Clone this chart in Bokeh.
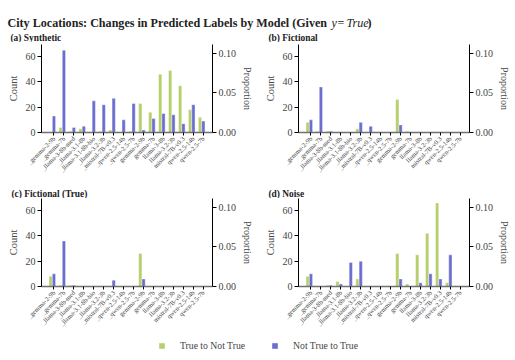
import math
from bokeh.plotting import figure
from bokeh.models import (Range1d, LinearAxis, FixedTicker, PrintfTickFormatter,
                          Label, Legend, LegendItem, ColumnDataSource)
from bokeh.transform import dodge
from bokeh.layouts import column, row
from bokeh.embed import file_html
from bokeh.resources import INLINE

# ---------------- data ----------------
categories = ["_gemma-2-9b", "_gemma-7b", "_llama-3-8b-med", "_llama-3.1-8b",
              "_llama-3.1-8b-bio", "_llama-3.2-3b", "_mistral-7B-v0.3", "_qwen-2.5-14b",
              "_qwen-2.5-7b", "gemma-2-9b", "gemma-7b", "llama-3-8b", "llama-3.2-3b",
              "mistral-7B-v0.3", "qwen-2.5-14b", "qwen-2.5-7b"]

panel_titles = ["(a) Synthetic", "(b) Fictional", "(c) Fictional (True)", "(d) Noise"]

synthetic_true_to_not = [0, 4, 1, 3, 0, 1, 2, 0, 1, 23, 16, 46, 49, 37, 18, 12]
synthetic_not_to_true = [13, 65, 4, 5, 25, 22, 27, 10, 23, 2, 11, 15, 14, 7, 22, 9]

fictional_true_to_not = [8, 1, 1, 0, 0, 3, 0, 0, 0, 26, 1, 0, 0, 0, 0, 0]
fictional_not_to_true = [10, 36, 1, 0, 0, 8, 5, 0, 0, 6, 0, 0, 0, 0, 0, 0]

fictrue_true_to_not = [8, 1, 1, 0, 0, 0, 0, 0, 0, 26, 0, 0, 0, 0, 0, 0]
fictrue_not_to_true = [10, 36, 1, 0, 0, 0, 5, 0, 0, 6, 0, 0, 0, 0, 0, 0]

noise_true_to_not = [8, 0, 1, 4, 0, 6, 0, 0, 0, 26, 2, 25, 42, 66, 3, 0]
noise_not_to_true = [10, 0, 1, 2, 19, 20, 0, 0, 0, 6, 0, 3, 10, 6, 25, 0]

count_ticks = [0, 20, 40, 60]
prop_ticks = [0.0, 0.05, 0.10]
total_n = 626  # proportion = count / total_n
y_max = 69.5

series_names = ["True to Not True", "Not True to True"]
series_colors = ["#b5cf6b", "#6b6ecf"]

FONT = "Liberation Serif"
TOTAL_W = 514

panels = [
    (synthetic_true_to_not, synthetic_not_to_true),
    (fictional_true_to_not, fictional_not_to_true),
    (fictrue_true_to_not, fictrue_not_to_true),
    (noise_true_to_not, noise_not_to_true),
]


def blank_strip(h):
    f = figure(width=TOTAL_W, height=h, output_backend="svg", toolbar_location=None,
               x_range=Range1d(0, TOTAL_W), y_range=Range1d(0, h),
               min_border=0, x_axis_type=None, y_axis_type=None, title=None)
    f.outline_line_color = None
    f.xgrid.visible = False
    f.ygrid.visible = False
    return f


def make_panel(idx, g_vals, b_vals):
    top_border = 2 if idx < 2 else 0
    p = figure(frame_width=171, frame_height=88, output_backend="svg", toolbar_location=None,
               x_range=Range1d(-1.25, 15.92), y_range=Range1d(0, y_max),
               min_border_left=41, min_border_right=45, min_border_top=top_border,
               min_border_bottom=50, x_axis_type=None, y_axis_type=None, title=None)
    p.outline_line_color = None
    p.background_fill_color = "white"
    p.border_fill_color = "white"
    p.xgrid.visible = False
    p.ygrid.visible = False
    p.extra_y_ranges = {"prop": Range1d(0, y_max / total_n)}

    src = ColumnDataSource(dict(x=list(range(len(categories))), g=g_vals, b=b_vals))
    p.vbar(x=dodge("x", -0.33, range=p.x_range), top="g", width=0.33, source=src,
           fill_color=series_colors[0], line_color="white", line_width=0.6, line_alpha=0.7)
    p.vbar(x="x", top="b", width=0.33, source=src,
           fill_color=series_colors[1], line_color="white", line_width=0.6, line_alpha=0.7)

    xa = LinearAxis(ticker=FixedTicker(ticks=list(range(len(categories)))))
    xa.major_label_overrides = {i: c for i, c in enumerate(categories)}
    xa.major_label_orientation = math.pi / 4
    xa.major_label_text_font = FONT
    xa.major_label_text_font_size = "6.5px"
    xa.major_label_standoff = 2
    xa.major_tick_out = 3
    xa.major_tick_in = 0
    xa.minor_tick_out = 0
    xa.minor_tick_in = 0
    xa.axis_line_color = "#707070"
    xa.axis_line_width = 1.6
    p.add_layout(xa, "below")

    ya = LinearAxis(ticker=FixedTicker(ticks=count_ticks), axis_label="Count")
    ya.major_label_text_font = FONT
    ya.major_label_text_font_size = "10px"
    ya.axis_label_text_font = FONT
    ya.axis_label_text_font_size = "10.5px"
    ya.axis_label_text_font_style = "normal"
    ya.major_label_standoff = 2
    ya.axis_label_standoff = 4
    ya.major_tick_out = 4
    ya.major_tick_in = 0
    ya.minor_tick_out = 0
    ya.minor_tick_in = 0
    ya.axis_line_color = "black"
    p.add_layout(ya, "left")

    ra = LinearAxis(y_range_name="prop", ticker=FixedTicker(ticks=prop_ticks),
                    axis_label="Proportion", formatter=PrintfTickFormatter(format="%.2f"))
    ra.major_label_text_font = FONT
    ra.major_label_text_font_size = "10px"
    ra.axis_label_text_font = FONT
    ra.axis_label_text_font_size = "10px"
    ra.axis_label_text_font_style = "normal"
    ra.major_label_standoff = 2
    ra.axis_label_standoff = 3
    ra.major_tick_out = 4
    ra.major_tick_in = 0
    ra.minor_tick_out = 0
    ra.minor_tick_in = 0
    ra.axis_line_color = "black"
    p.add_layout(ra, "right")
    return p


figs = [make_panel(i, g, b) for i, (g, b) in enumerate(panels)]

# ---------------- top strip: main title + (a)/(b) titles ----------------
s1 = blank_strip(42)
title_parts = [
    ("City Locations: Changes in Predicted Labels by Model (Given", "bold", 7),
    ("y", "italic", 331),
    ("=", "normal", 337),
    ("True", "italic", 346),
    (")", "bold", 367),
]
for txt, style, xpos in title_parts:
    s1.add_layout(Label(x=xpos, y=19.5, text=txt, text_font=FONT, text_font_size="12.1px",
                        text_font_style=style, text_baseline="alphabetic",
                        text_align="left", text_color="#222222"))
for txt, xpos in [(panel_titles[0], 10), (panel_titles[1], 268)]:
    s1.add_layout(Label(x=xpos, y=4.5, text=txt, text_font=FONT, text_font_size="9.4px",
                        text_font_style="bold", text_baseline="alphabetic",
                        text_align="left", text_color="#222222"))

# ---------------- middle strip: (c)/(d) titles ----------------
s2 = blank_strip(16)
for txt, xpos in [(panel_titles[2], 11), (panel_titles[3], 268)]:
    s2.add_layout(Label(x=xpos, y=4.5, text=txt, text_font=FONT, text_font_size="9.4px",
                        text_font_style="bold", text_baseline="alphabetic",
                        text_align="left", text_color="#222222"))

# ---------------- legend strip ----------------
lf = figure(width=TOTAL_W, height=20, output_backend="svg", toolbar_location=None,
            x_range=Range1d(0, 1), y_range=Range1d(0, 1),
            min_border=0, x_axis_type=None, y_axis_type=None, title=None)
lf.outline_line_color = None
lf.xgrid.visible = False
lf.ygrid.visible = False
dummy = ColumnDataSource(dict(x=[5.0], top=[0.0]))
r1 = lf.vbar(x="x", top="top", width=0.3, source=dummy, fill_color=series_colors[0], line_color=None)
r2 = lf.vbar(x="x", top="top", width=0.3, source=dummy, fill_color=series_colors[1], line_color=None)
leg = Legend(items=[LegendItem(label=series_names[0], renderers=[r1]),
                    LegendItem(label=series_names[1], renderers=[r2])],
             orientation="horizontal", location=(158, 5),
             glyph_width=7, glyph_height=7, label_standoff=15, spacing=26,
             padding=0, margin=0, border_line_color=None, background_fill_alpha=0,
             label_text_font=FONT, label_text_font_size="9.7px", label_height=11)
lf.add_layout(leg, "center")

layout = column(s1, row(figs[0], figs[1]), s2, row(figs[2], figs[3]), lf)

open("out.html", "w").write(file_html(layout, INLINE))
